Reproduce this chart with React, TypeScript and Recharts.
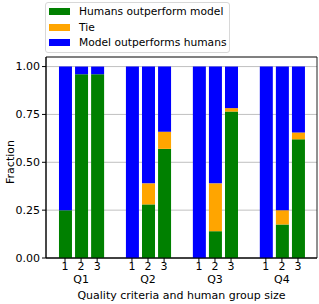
import React from "react";
import {
  BarChart,
  Bar,
  XAxis,
  YAxis,
  CartesianGrid,
  ReferenceArea,
} from "recharts";

const criteria = ["Q1", "Q2", "Q3", "Q4"];
const groupSizes = ["1", "2", "3"];
const humansBetter = [
  [0.25, 0.96, 0.96],
  [0, 0.28, 0.57],
  [0, 0.14, 0.765],
  [0, 0.175, 0.62],
];
const ties = [
  [0, 0, 0],
  [0, 0.11, 0.09],
  [0, 0.25, 0.018],
  [0, 0.075, 0.036],
];
const modelBetter = [
  [0.75, 0.04, 0.04],
  [1, 0.61, 0.34],
  [1, 0.61, 0.217],
  [1, 0.75, 0.344],
];

const offsets = [-0.24, 0, 0.24];
const data = criteria.flatMap((q, i) =>
  groupSizes.map((g, j) => ({
    x: i + offsets[j],
    size: g,
    crit: j === 1 ? q : "",
    humans: humansBetter[i][j],
    tie: ties[i][j],
    model: modelBetter[i][j],
  }))
);
const tickPos = data.map((d) => d.x);

const FONT = "DejaVu Sans, sans-serif";

const XTick = ({ x, y, payload }: any) => {
  const d = data.find((r) => Math.abs(r.x - payload.value) < 1e-6);
  if (!d) return null;
  return (
    <g>
      <text x={x} y={y + 6} textAnchor="middle" fontSize={11} fill="#000" fontFamily={FONT}>
        {d.size}
      </text>
      {d.crit && (
        <text x={x} y={y + 19} textAnchor="middle" fontSize={11} fill="#000" fontFamily={FONT}>
          {d.crit}
        </text>
      )}
    </g>
  );
};

const legendItems = [
  { label: "Humans outperform model", color: "#008000" },
  { label: "Tie", color: "#ffa500" },
  { label: "Model outperforms humans", color: "#0000ff" },
];

const LegendBox = () => (
  <div
    style={{
      position: "absolute",
      left: 45,
      top: 2,
      border: "1px solid #d8d8d8",
      borderRadius: 3,
      background: "#fff",
      padding: "1px 3px 1px 3px",
      fontFamily: FONT,
      fontSize: 10.7,
      whiteSpace: "nowrap",
    }}
  >
    {legendItems.map((it) => (
      <div key={it.label} style={{ display: "flex", alignItems: "center", height: 15.5 }}>
        <span style={{ width: 21, height: 7, background: it.color, marginRight: 9 }} />
        <span>{it.label}</span>
      </div>
    ))}
  </div>
);

const YLabel = () => (
  <text
    x={10}
    y={162}
    transform="rotate(-90 10 162)"
    textAnchor="middle"
    dominantBaseline="central"
    fontSize={11}
    fill="#000"
    fontFamily={FONT}
  >
    Fraction
  </text>
);

export default function App() {
  return (
    <div style={{ position: "absolute", left: 0, top: 0, width: 319, height: 304, background: "#fff" }}>
      <BarChart
        width={319}
        height={304}
        data={data}
        margin={{ top: 57, right: 2, bottom: 0, left: 0 }}
        barSize={13}
      >
        <CartesianGrid vertical={false} stroke="#b0b0b0" strokeWidth={0.8} />
        <XAxis
          dataKey="x"
          type="number"
          domain={[-0.524, 3.524]}
          ticks={tickPos}
          tick={<XTick />}
          tickSize={4}
          height={46}
          stroke="#000"
          interval={0}
          allowDataOverflow
          label={{
            value: "Quality criteria and human group size",
            position: "insideBottom",
            offset: 5,
            fontSize: 11,
            fill: "#000",
            fontFamily: FONT,
          }}
        />
        <YAxis
          domain={[0, 1.05]}
          ticks={[0, 0.25, 0.5, 0.75, 1]}
          tickFormatter={(v: number) => v.toFixed(2)}
          tickSize={4}
          width={46}
          stroke="#000"
          tick={{ fontSize: 11, fill: "#000", fontFamily: FONT }}
          allowDataOverflow
          label={<YLabel />}
        />
        <Bar dataKey="humans" stackId="a" fill="#008000" isAnimationActive={false} name="Humans outperform model" />
        <Bar dataKey="tie" stackId="a" fill="#ffa500" isAnimationActive={false} name="Tie" />
        <Bar dataKey="model" stackId="a" fill="#0000ff" isAnimationActive={false} name="Model outperforms humans" />
        <ReferenceArea
          x1={-0.524}
          x2={3.524}
          y1={0}
          y2={1.05}
          fill="none"
          stroke="#222"
          strokeWidth={1}
          ifOverflow="visible"
        />
      </BarChart>
      <LegendBox />
    </div>
  );
}
